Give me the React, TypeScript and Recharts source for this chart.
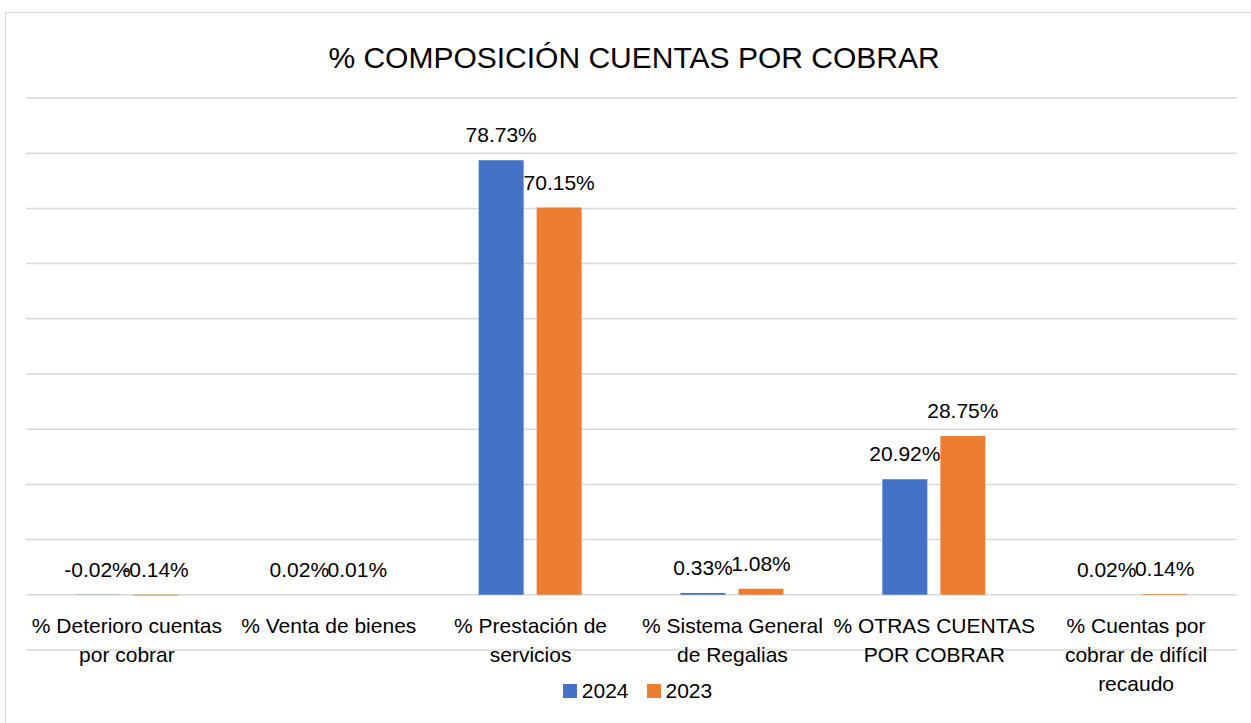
import { Bar, BarChart, CartesianGrid, LabelList, Legend, XAxis, YAxis } from "recharts";

const categories = [
  "% Deterioro cuentas por cobrar",
  "% Venta de bienes",
  "% Prestación de servicios",
  "% Sistema General de Regalias",
  "% OTRAS CUENTAS POR COBRAR",
  "% Cuentas por cobrar de difícil recaudo",
];
const values2024 = [-0.02, 0.02, 78.73, 0.33, 20.92, 0.02];
const values2023 = [-0.14, 0.01, 70.15, 1.08, 28.75, 0.14];
const yTicks = [-10, 0, 10, 20, 30, 40, 50, 60, 70, 80, 90];

const series = [
  { key: "y2024", name: "2024", color: "#4472C4" },
  { key: "y2023", name: "2023", color: "#ED7D31" },
];

const data = categories.map((name, i) => ({
  name,
  y2024: values2024[i],
  y2023: values2023[i],
}));

const FONT = '"Liberation Sans", Arial, sans-serif';

let ctx: CanvasRenderingContext2D | null = null;
const measure = (s: string) => {
  if (!ctx) {
    ctx = document.createElement("canvas").getContext("2d");
  }
  if (!ctx) return s.length * 11;
  ctx.font = `21px ${FONT}`;
  return ctx.measureText(s).width;
};

// simple word wrap to a max width
const wrap = (label: string, maxWidth: number) => {
  const lines: string[] = [];
  let cur = "";
  label.split(" ").forEach((w) => {
    const next = cur ? `${cur} ${w}` : w;
    if (cur && measure(next) > maxWidth) {
      lines.push(cur);
      cur = w;
    } else {
      cur = next;
    }
  });
  if (cur) lines.push(cur);
  return lines;
};

const CategoryTick = (props: any) => {
  const { x, y, payload } = props;
  const lines = wrap(String(payload.value), 203.6);
  return (
    <text x={x} y={y - 17} textAnchor="middle" fontSize={21} fontFamily={FONT} fill="#000">
      {lines.map((l, i) => (
        <tspan key={i} x={x} dy={i === 0 ? 0 : 29}>
          {l}
        </tspan>
      ))}
    </text>
  );
};

const ValueLabel = (props: any) => {
  const { x, y, width, height, value } = props;
  const top = Math.min(y, y + height);
  return (
    <text
      x={x + width / 2}
      y={top - 18}
      textAnchor="middle"
      fontSize={21}
      fontFamily={FONT}
      fill="#000"
    >
      {Number(value).toFixed(2)}%
    </text>
  );
};

const LegendContent = () => (
  <div
    style={{
      display: "flex",
      justifyContent: "center",
      alignItems: "center",
      gap: 18,
      fontSize: 21,
      lineHeight: "24px",
      fontFamily: FONT,
      color: "#000",
    }}
  >
    {series.map((s) => (
      <span key={s.key} style={{ display: "flex", alignItems: "center" }}>
        <span style={{ width: 14, height: 14, background: s.color, marginRight: 5 }} />
        {s.name}
      </span>
    ))}
  </div>
);

export default function App() {
  return (
    <div
      style={{
        position: "absolute",
        left: 0,
        top: 0,
        width: 1251,
        height: 723,
        overflow: "hidden",
        background: "#fff",
        fontFamily: FONT,
      }}
    >
      <div
        style={{
          position: "absolute",
          left: 5,
          top: 12,
          width: 1300,
          height: 800,
          borderLeft: "1px solid #d9d9d9",
          borderTop: "1px solid #d9d9d9",
        }}
      />
      <div
        style={{
          position: "absolute",
          left: 0,
          top: 43,
          width: 1268,
          textAlign: "center",
          fontSize: 30,
          lineHeight: "30px",
          color: "#000",
        }}
      >
        % COMPOSICIÓN CUENTAS POR COBRAR
      </div>
      <BarChart
        width={1251}
        height={723}
        data={data}
        margin={{ top: 98, right: 14, left: 26, bottom: 43 }}
        barSize={45}
        barGap={13}
        style={{ position: "absolute", left: 0, top: 0 }}
      >
        <CartesianGrid vertical={false} stroke="#d9d9d9" strokeWidth={1.5} />
        <XAxis
          dataKey="name"
          height={30}
          axisLine={false}
          tickLine={false}
          tickSize={0}
          tickMargin={0}
          interval={0}
          tick={(p: any) => <CategoryTick {...p} />}
        />
        <YAxis hide domain={[-10, 90]} ticks={yTicks} />
        <Legend
          layout="horizontal"
          verticalAlign="middle"
          align="center"
          content={() => <LegendContent />}
          wrapperStyle={{ top: 679, left: 24, width: 1227 }}
        />
        {series.map((s) => (
          <Bar key={s.key} dataKey={s.key} name={s.name} fill={s.color} isAnimationActive={false}>
            <LabelList dataKey={s.key} content={(p: any) => <ValueLabel {...p} />} />
          </Bar>
        ))}
      </BarChart>
    </div>
  );
}
